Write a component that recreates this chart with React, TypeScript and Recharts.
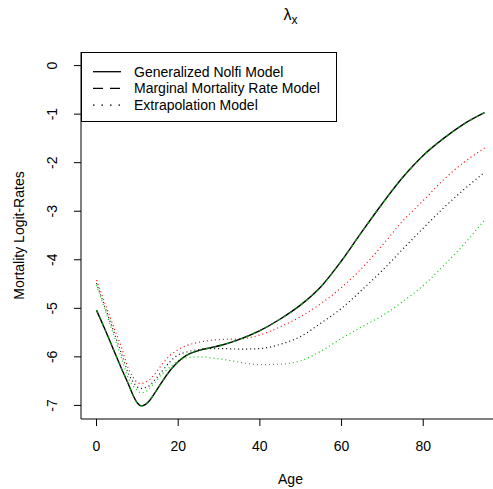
import React from "react";
import { LineChart, Line, XAxis, YAxis, Legend, Label } from "recharts";

const ages = [0, 2, 4, 6, 8, 9, 10, 11, 12, 13, 14, 16, 18, 20, 22, 25, 28, 31, 35, 40, 45, 50, 55, 60, 65, 70, 75, 80, 85, 90, 95];

// Generalized Nolfi model (solid black)
const nolfi = [-5.04, -5.42, -5.82, -6.22, -6.6, -6.8, -6.95, -7.01, -6.98, -6.9, -6.78, -6.52, -6.28, -6.1, -5.97, -5.87, -5.81, -5.75, -5.64, -5.46, -5.22, -4.93, -4.55, -4.02, -3.42, -2.84, -2.3, -1.85, -1.5, -1.2, -0.97];
// Marginal mortality rate model (dashed, sits on top of the Nolfi curve)
const marginal = [-5.04, -5.42, -5.82, -6.22, -6.6, -6.8, -6.95, -7.01, -6.98, -6.9, -6.78, -6.52, -6.28, -6.1, -5.97, -5.87, -5.81, -5.75, -5.64, -5.46, -5.22, -4.93, -4.55, -4.02, -3.42, -2.84, -2.3, -1.85, -1.5, -1.2, -0.97];
// Extrapolation model, three variants (dotted)
const extrapRed = [-4.42, -4.88, -5.34, -5.78, -6.28, -6.42, -6.53, -6.55, -6.52, -6.47, -6.38, -6.16, -5.97, -5.85, -5.77, -5.7, -5.66, -5.64, -5.63, -5.55, -5.38, -5.17, -4.9, -4.57, -4.17, -3.7, -3.2, -2.78, -2.35, -1.99, -1.7];
const extrapBlack = [-4.48, -4.96, -5.43, -5.91, -6.38, -6.52, -6.62, -6.65, -6.63, -6.59, -6.5, -6.3, -6.1, -5.96, -5.9, -5.85, -5.83, -5.83, -5.84, -5.83, -5.74, -5.58, -5.3, -5.0, -4.62, -4.22, -3.78, -3.35, -2.93, -2.55, -2.2];
const extrapGreen = [-4.52, -5.01, -5.5, -5.99, -6.48, -6.6, -6.7, -6.74, -6.72, -6.65, -6.56, -6.36, -6.21, -6.08, -6.02, -6.0, -6.02, -6.05, -6.11, -6.16, -6.15, -6.08, -5.88, -5.62, -5.38, -5.15, -4.86, -4.53, -4.12, -3.68, -3.18];

const xTicks = [0, 20, 40, 60, 80];
const yTicks = [0, -1, -2, -3, -4, -5, -6, -7];
const legendNames = ["Generalized Nolfi Model", "Marginal Mortality Rate Model", "Extrapolation Model"];

const data = ages.map((age, i) => ({
  age,
  nolfi: nolfi[i],
  marginal: marginal[i],
  extrapRed: extrapRed[i],
  extrapBlack: extrapBlack[i],
  extrapGreen: extrapGreen[i],
}));

const FONT = "'Liberation Sans', Arial, Helvetica, sans-serif";
const legendDash = ["", "10 7", "1.5 7"];

const XTick = ({ x, y, payload }: any) => (
  <text x={x} y={y + 25} textAnchor="middle" fontSize={14} fontFamily={FONT} fill="#000">
    {payload.value}
  </text>
);

const YTick = ({ x, y, payload }: any) => (
  <text
    x={x - 17}
    y={y}
    transform={`rotate(-90, ${x - 17}, ${y})`}
    textAnchor="middle"
    fontSize={14}
    fontFamily={FONT}
    fill="#000"
  >
    {payload.value}
  </text>
);

const LegendBox = () => (
  <div style={{ width: 256, height: 70, border: "1px solid #000", boxSizing: "border-box", background: "#fff" }}>
    <svg width={254} height={68} style={{ display: "block" }}>
      {legendNames.map((name, i) => {
        const cy = 18.7 + i * 16.7;
        return (
          <g key={name}>
            <line x1={11} x2={39} y1={cy} y2={cy} stroke="#000" strokeWidth={1.3} strokeDasharray={legendDash[i]} />
            <text x={52} y={cy + 5} fontSize={14} fontFamily={FONT} fill="#000">
              {name}
            </text>
          </g>
        );
      })}
    </svg>
  </div>
);

export default function App() {
  return (
    <div
      style={{
        position: "absolute",
        left: 0,
        top: 0,
        width: 493,
        height: 489,
        overflow: "hidden",
        background: "#fff",
        fontFamily: FONT,
      }}
    >
      <LineChart width={520} height={489} data={data} margin={{ top: 52, right: 20, bottom: 40, left: 21 }}>
        <XAxis
          dataKey="age"
          type="number"
          domain={[-3.8, 98.8]}
          ticks={xTicks}
          height={30}
          tickSize={7}
          tickMargin={0}
          tick={<XTick />}
          stroke="#000"
          allowDataOverflow
        >
          <Label
            content={({ viewBox }: any) => (
              <text x={viewBox.x + viewBox.width / 2} y={484} textAnchor="middle" fontSize={14} fontFamily={FONT} fill="#000">
                Age
              </text>
            )}
          />
        </XAxis>
        <XAxis
          xAxisId="top"
          orientation="top"
          dataKey="age"
          type="number"
          domain={[-3.8, 98.8]}
          height={0}
          tick={false}
          tickLine={false}
          stroke="#000"
          allowDataOverflow
        />
        <YAxis
          type="number"
          domain={[-7.28, 0.28]}
          ticks={yTicks}
          width={60}
          tickSize={7}
          tickMargin={0}
          tick={<YTick />}
          stroke="#000"
          allowDataOverflow
        >
          <Label
            content={({ viewBox }: any) => {
              const cy = viewBox.y + viewBox.height / 2;
              return (
                <text x={24} y={cy} transform={`rotate(-90, 24, ${cy})`} textAnchor="middle" fontSize={14} fontFamily={FONT} fill="#000">
                  Mortality Logit-Rates
                </text>
              );
            }}
          />
        </YAxis>
        <Legend
          layout="horizontal"
          verticalAlign="middle"
          align="center"
          wrapperStyle={{ top: 52, left: 81, width: 256, height: 70 }}
          content={<LegendBox />}
        />
        <Line type="monotone" dataKey="extrapGreen" stroke="#00CD00" strokeWidth={1.2} strokeDasharray="1 3" dot={false} isAnimationActive={false} />
        <Line type="monotone" dataKey="extrapBlack" stroke="#000" strokeWidth={1.2} strokeDasharray="1 3" dot={false} isAnimationActive={false} />
        <Line type="monotone" dataKey="extrapRed" stroke="#FF0000" strokeWidth={1.2} strokeDasharray="1 3" dot={false} isAnimationActive={false} />
        <Line type="monotone" dataKey="nolfi" stroke="#000" strokeWidth={1.4} dot={false} isAnimationActive={false} />
        <Line type="monotone" dataKey="marginal" stroke="#00A000" strokeWidth={1.1} strokeDasharray="3 4" dot={false} isAnimationActive={false} />
      </LineChart>
      <svg width={493} height={40} style={{ position: "absolute", left: 0, top: 0, pointerEvents: "none" }}>
        <text x={290.5} y={20} textAnchor="middle" fontSize={16} fontFamily={FONT} fill="#000">
          λ
          <tspan dy={4} fontSize={12}>
            x
          </tspan>
        </text>
      </svg>
    </div>
  );
}
